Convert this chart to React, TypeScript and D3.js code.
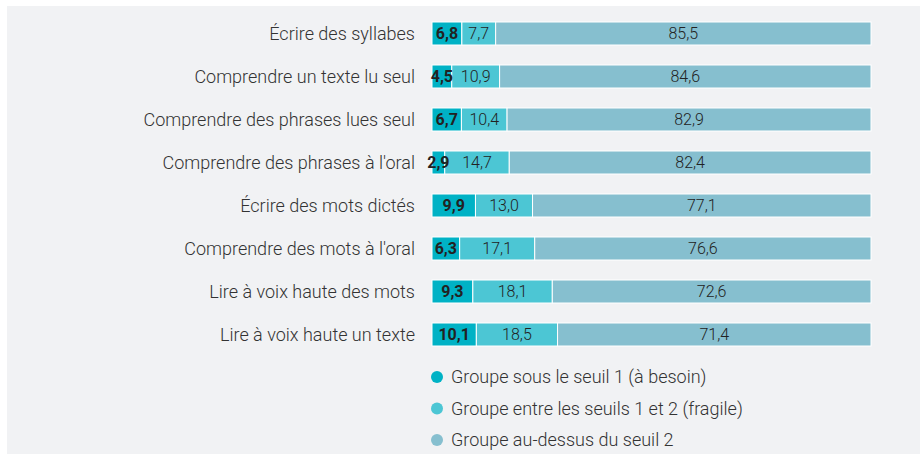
import React from "react";
import * as d3 from "d3";

const categories = [
  "Écrire des syllabes",
  "Comprendre un texte lu seul",
  "Comprendre des phrases lues seul",
  "Comprendre des phrases à l'oral",
  "Écrire des mots dictés",
  "Comprendre des mots à l'oral",
  "Lire à voix haute des mots",
  "Lire à voix haute un texte",
];
const besoin = [6.8, 4.5, 6.7, 2.9, 9.9, 6.3, 9.3, 10.1];
const fragile = [7.7, 10.9, 10.4, 14.7, 13.0, 17.1, 18.1, 18.5];
const dessus = [85.5, 84.6, 82.9, 82.4, 77.1, 76.6, 72.6, 71.4];
const seriesNames = [
  "Groupe sous le seuil 1 (à besoin)",
  "Groupe entre les seuils 1 et 2 (fragile)",
  "Groupe au-dessus du seuil 2",
];
const colors = ["#00b2c5", "#4cc6d4", "#86bfcf"];

const fmt = (v: number) => v.toFixed(1).replace(".", ",");

export default function App() {
  const W = 920, H = 454;
  const x = d3.scaleLinear().domain([0, 100]).range([432, 871]);
  const y = d3.scaleBand<string>().domain(categories).range([22 - 10, 22 + 43 * 8 - 10]).paddingInner(20 / 43).paddingOuter(10 / 43);
  const series = [besoin, fragile, dessus];
  const stack = d3.stack<number>().keys(["0", "1", "2"]).value((i, k) => series[+k][i]);
  const stacked = stack(d3.range(categories.length));
  const font = "Roboto, 'Noto Sans', sans-serif";
  return (
    <svg width={W} height={H} style={{ position: "absolute", left: 0, top: 0 }} fontFamily={font}>
      <rect x={7} y={6} width={W - 7} height={H - 6} fill="#f1f2f4" />
      {categories.map((c) => (
        <text key={c} x={415} y={(y(c) as number) + y.bandwidth() / 2} dy="0.35em" textAnchor="end" fontSize={18} fontWeight={300} fill="#333">
          {c}
        </text>
      ))}
      {stacked.map((s, si) => (
        <g key={"r" + si}>
          {s.map((d, i) => {
            const x0 = x(d[0]), x1 = x(d[1]);
            const yy = y(categories[i]) as number;
            return <rect key={i} x={x0} y={yy} width={x1 - x0} height={y.bandwidth()} fill={colors[si]} stroke="#fff" strokeWidth={1} />;
          })}
        </g>
      ))}
      {stacked.map((s, si) => (
        <g key={"t" + si}>
          {s.map((d, i) => {
            const x0 = x(d[0]), x1 = x(d[1]);
            const yy = y(categories[i]) as number;
            return (
              <text
                key={i}
                x={(x0 + x1) / 2}
                y={yy + y.bandwidth() / 2}
                dy="0.35em"
                textAnchor="middle"
                fontSize={16}
                fontWeight={si === 0 ? "bold" : 300}
                fill="#222"
              >
                {fmt(series[si][i])}
              </text>
            );
          })}
        </g>
      ))}
      {seriesNames.map((n, i) => (
        <g key={n} transform={`translate(437, ${377 + i * 31.5})`}>
          <circle r={6} fill={colors[i]} />
          <text x={14} dy="0.35em" fontSize={18} fontWeight={300} fill="#333">
            {n}
          </text>
        </g>
      ))}
    </svg>
  );
}
